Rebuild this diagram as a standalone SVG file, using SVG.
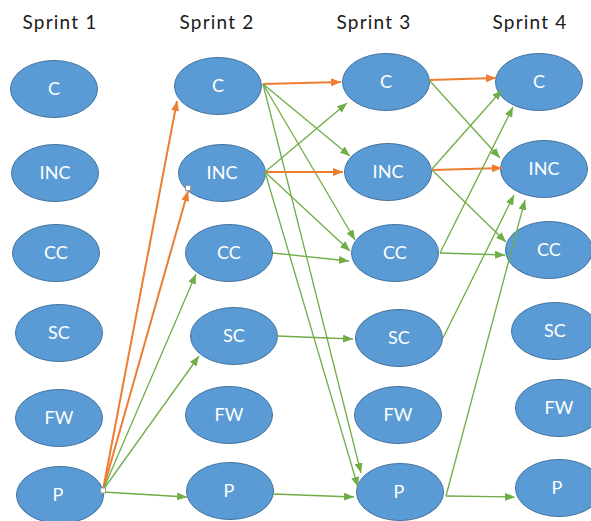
<svg xmlns="http://www.w3.org/2000/svg" width="591" height="521" viewBox="0 0 591 521">
  <style>
    .hdr { font-family: Lato, "Open Sans", "Liberation Sans", sans-serif; font-size: 19px; fill: #1a1a1a; text-anchor: middle; letter-spacing: 1.2px; }
    .node ellipse { fill: #5b9bd5; stroke: #41719c; stroke-width: 1; }
    .node text { font-family: Lato, "Open Sans", "Liberation Sans", sans-serif; font-size: 18px; fill: #ffffff; text-anchor: middle; }
    .or { stroke: #ed7d31; stroke-width: 2; fill: none; marker-end: url(#ah-or); }
    .gr { stroke: #70ad47; stroke-width: 1.3; fill: none; marker-end: url(#ah-gr); }
    .handle { fill: #ffffff; stroke: #9a9a9a; stroke-width: 1; }
  </style>
  <defs>
    <marker id="ah-or" markerUnits="userSpaceOnUse" markerWidth="10" markerHeight="8" refX="10" refY="4" orient="auto">
      <path d="M0,0 L10,4 L0,8 z" fill="#ed7d31"/>
    </marker>
    <marker id="ah-gr" markerUnits="userSpaceOnUse" markerWidth="10" markerHeight="8" refX="10" refY="4" orient="auto">
      <path d="M0,0 L10,4 L0,8 z" fill="#70ad47"/>
    </marker>
  </defs>
  <rect width="591" height="521" fill="#ffffff"/>

  <!-- column headings -->
  <g id="headings">
    <text class="hdr" x="60" y="29">Sprint 1</text>
    <text class="hdr" x="217" y="29">Sprint 2</text>
    <text class="hdr" x="374" y="29">Sprint 3</text>
    <text class="hdr" x="530" y="29">Sprint 4</text>
  </g>

  <!-- sprint 1 -->
  <g id="s1-c" class="node"><ellipse cx="54" cy="89" rx="43.5" ry="28.5"/><text x="54" y="95">C</text></g>
  <g id="s1-inc" class="node"><ellipse cx="55" cy="173" rx="43.5" ry="28.5"/><text x="55" y="179">INC</text></g>
  <g id="s1-cc" class="node"><ellipse cx="56" cy="253" rx="43.5" ry="28.5"/><text x="56" y="259">CC</text></g>
  <g id="s1-sc" class="node"><ellipse cx="59" cy="333" rx="43.5" ry="28.5"/><text x="59" y="339">SC</text></g>
  <g id="s1-fw" class="node"><ellipse cx="59" cy="418" rx="43.5" ry="28.5"/><text x="59" y="424">FW</text></g>
  <g id="s1-p" class="node"><ellipse cx="60" cy="495" rx="43.5" ry="28.5"/><text x="58" y="501">P</text></g>

  <!-- sprint 2 -->
  <g id="s2-c" class="node"><ellipse cx="218" cy="86" rx="43.5" ry="28.5"/><text x="218" y="92">C</text></g>
  <g id="s2-inc" class="node"><ellipse cx="222" cy="173" rx="43.5" ry="28.5"/><text x="222" y="179">INC</text></g>
  <g id="s2-cc" class="node"><ellipse cx="229" cy="253" rx="43.5" ry="28.5"/><text x="229" y="259">CC</text></g>
  <g id="s2-sc" class="node"><ellipse cx="234" cy="336" rx="43.5" ry="28.5"/><text x="234" y="342">SC</text></g>
  <g id="s2-fw" class="node"><ellipse cx="229" cy="415" rx="43.5" ry="28.5"/><text x="229" y="421">FW</text></g>
  <g id="s2-p" class="node"><ellipse cx="230" cy="491" rx="43.5" ry="28.5"/><text x="229" y="497">P</text></g>

  <!-- sprint 3 -->
  <g id="s3-c" class="node"><ellipse cx="386" cy="82" rx="43.5" ry="28.5"/><text x="386" y="88">C</text></g>
  <g id="s3-inc" class="node"><ellipse cx="388" cy="172" rx="43.5" ry="28.5"/><text x="388" y="178">INC</text></g>
  <g id="s3-cc" class="node"><ellipse cx="395" cy="253" rx="43.5" ry="28.5"/><text x="395" y="259">CC</text></g>
  <g id="s3-sc" class="node"><ellipse cx="399" cy="338" rx="43.5" ry="28.5"/><text x="399" y="344">SC</text></g>
  <g id="s3-fw" class="node"><ellipse cx="398" cy="415" rx="43.5" ry="28.5"/><text x="398" y="421">FW</text></g>
  <g id="s3-p" class="node"><ellipse cx="400" cy="492" rx="43.5" ry="28.5"/><text x="399" y="498">P</text></g>

  <!-- sprint 4 -->
  <g id="s4-c" class="node"><ellipse cx="539" cy="82" rx="43.5" ry="28.5"/><text x="539" y="88">C</text></g>
  <g id="s4-inc" class="node"><ellipse cx="544" cy="169" rx="43.5" ry="28.5"/><text x="544" y="175">INC</text></g>
  <g id="s4-cc" class="node"><ellipse cx="549" cy="250" rx="43.5" ry="28.5"/><text x="549" y="256">CC</text></g>
  <g id="s4-sc" class="node"><ellipse cx="555" cy="331" rx="43.5" ry="28.5"/><text x="555" y="337">SC</text></g>
  <g id="s4-fw" class="node"><ellipse cx="559" cy="408" rx="43.5" ry="28.5"/><text x="559" y="414">FW</text></g>
  <g id="s4-p" class="node"><ellipse cx="559" cy="488" rx="43.5" ry="28.5"/><text x="557" y="494">P</text></g>

  <!-- dependency links -->
  <g id="connectors">
    <!-- sprint 1 to sprint 2 -->
    <path class="or" d="M103,490 L177,101"/>
    <path class="or" d="M103,490 L188,191"/>
    <path class="gr" d="M103,490 L196,274"/>
    <path class="gr" d="M103,490 L199,356"/>
    <path class="gr" d="M103,492 L187,497"/>
    <!-- sprint 2 to sprint 3 -->
    <path class="or" d="M263,84 L341,82"/>
    <path class="gr" d="M263,84 L350,156"/>
    <path class="gr" d="M263,84 L355,240"/>
    <path class="gr" d="M263,84 L361,473"/>
    <path class="gr" d="M265,172 L347,103"/>
    <path class="or" d="M265,172 L343,172"/>
    <path class="gr" d="M265,172 L350,251"/>
    <path class="gr" d="M265,172 L358,487"/>
    <path class="gr" d="M273,253 L349,261"/>
    <path class="gr" d="M277,336 L353,339"/>
    <path class="gr" d="M273,494 L354,497"/>
    <!-- sprint 3 to sprint 4 -->
    <path class="or" d="M429,80 L496,78"/>
    <path class="gr" d="M429,80 L500,158"/>
    <path class="gr" d="M432,169 L502,90"/>
    <path class="or" d="M432,170 L502,168"/>
    <path class="gr" d="M432,170 L506,242"/>
    <path class="gr" d="M440,253 L513,107"/>
    <path class="gr" d="M440,253 L505,255"/>
    <path class="gr" d="M443,338 L514,195"/>
    <path class="gr" d="M446,496 L525,200"/>
    <path class="gr" d="M446,496 L515,497"/>
    <!-- connection handles -->
    <rect class="handle" x="100.5" y="488" width="5" height="5"/>
    <rect class="handle" x="185.5" y="185.5" width="5" height="5"/>
  </g>
</svg>
